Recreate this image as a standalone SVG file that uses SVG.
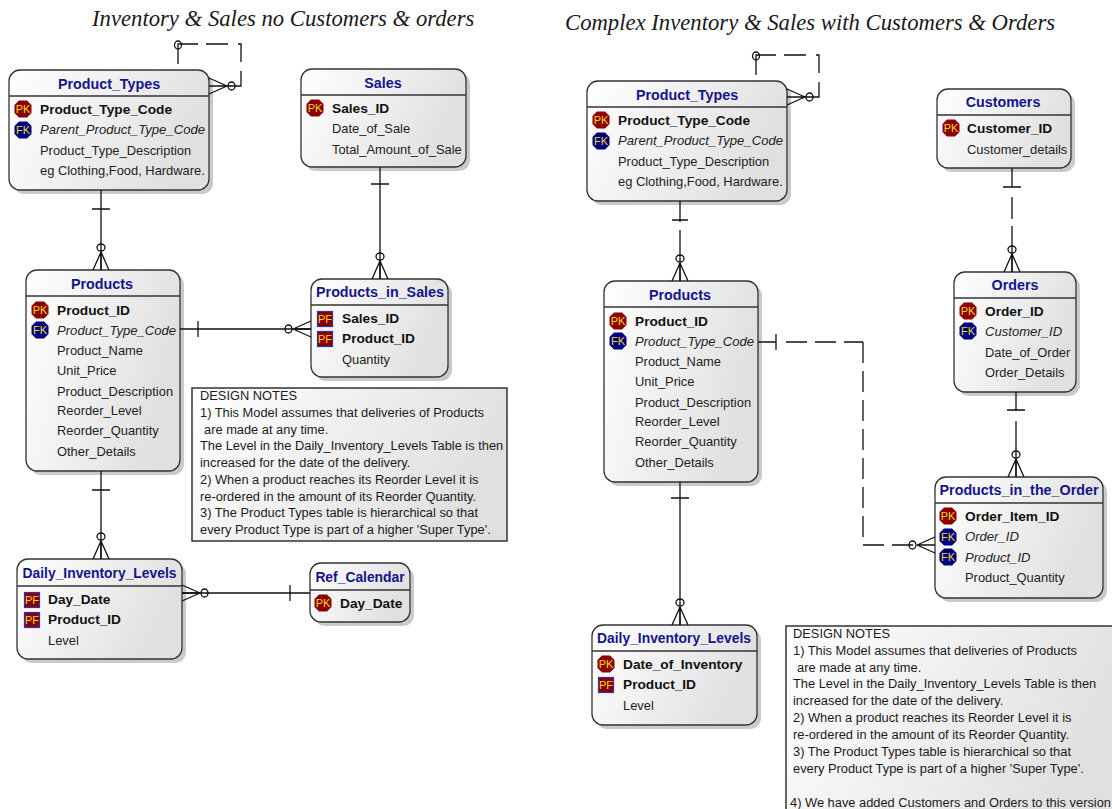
<svg xmlns="http://www.w3.org/2000/svg" xmlns:xlink="http://www.w3.org/1999/xlink" width="1112" height="809" viewBox="0 0 1112 809">
<style>
text{font-family:"Liberation Sans",Arial,sans-serif;font-size:12.9px;fill:#222}
.head{font-family:"Liberation Serif","Times New Roman",serif;font-style:italic;font-size:22.7px;fill:#1a1a1a}
.t{font-size:14.3px;font-weight:700;fill:#14148c;text-anchor:middle}
.t2{font-size:13.85px}
.b{font-size:13.7px;font-weight:700;fill:#111}
.i{font-style:italic;font-size:13.1px}
.n{font-size:12.85px;fill:#1a1a1a}
.box{fill:url(#g);stroke:#333;stroke-width:1.3}
.sh{fill:#cacaca}
.hl{stroke:#333;stroke-width:1.3}
.c{fill:none;stroke:#111;stroke-width:1.3}
.d{stroke-dasharray:21 8}
.o{fill:none;stroke:#111;stroke-width:1.3}
.note{fill:url(#g);stroke:#333;stroke-width:1.5}
.it{font-size:11px;fill:#f5d820;text-anchor:middle;font-weight:400}
</style>
<defs>
<linearGradient id="g" x1="0" y1="0" x2="1" y2="0.3"><stop offset="0" stop-color="#ffffff"/><stop offset="1" stop-color="#e0e0e0"/></linearGradient>
<g id="pk"><polygon points="-4,-8.5 4,-8.5 8.5,-4 8.5,4 4,8.5 -4,8.5 -8.5,4 -8.5,-4" fill="#8b0000"/><text class="it" y="4">PK</text></g>
<g id="fk"><polygon points="-4,-8.5 4,-8.5 8.5,-4 8.5,4 4,8.5 -4,8.5 -8.5,4 -8.5,-4" fill="#000080"/><text class="it" y="4">FK</text></g>
<g id="pf"><rect x="-7.5" y="-7.5" width="15" height="15" fill="#8b0000" stroke="#3030b0" stroke-width="1.2"/><text class="it" y="4">PF</text></g>
<g id="cd"><path class="c" d="M0 -18L-8 0M0 -18L8 0M0 -18V0"/><ellipse class="o" cx="0" cy="-22.5" rx="4" ry="3.5"/></g>
<g id="cl"><path class="c" d="M-18 0L0 -8M-18 0L0 8M-18 0H0"/><ellipse class="o" cx="-22.5" cy="0" rx="3.5" ry="4"/></g>
<g id="cr"><path class="c" d="M18 0L0 -8M18 0L0 8M18 0H0"/><ellipse class="o" cx="22.5" cy="0" rx="3.5" ry="4"/></g>
</defs>
<rect width="1112" height="809" fill="#fff"/>
<text class="head" x="92" y="26">Inventory &amp; Sales no Customers &amp; orders</text>
<text class="head" x="565" y="30">Complex Inventory &amp; Sales with Customers &amp; Orders</text>
<g id="t1"><rect class="sh" x="13" y="74" width="200" height="120" rx="11"/><rect class="box" x="9" y="70" width="200" height="120" rx="11"/><path class="hl" d="M9 96H209"/><text class="t" x="109" y="89">Product_Types</text><use xlink:href="#pk" x="23" y="109"/><use xlink:href="#fk" x="23" y="130"/><text class="b" x="40" y="114">Product_Type_Code</text><text class="i" x="40" y="134">Parent_Product_Type_Code</text><text x="40" y="155">Product_Type_Description</text><text x="40" y="175">eg Clothing,Food, Hardware.</text></g>
<g id="s1"><rect class="sh" x="305" y="73" width="165" height="98" rx="11"/><rect class="box" x="301" y="69" width="165" height="98" rx="11"/><path class="hl" d="M301 95H466"/><text class="t" x="383" y="88">Sales</text><use xlink:href="#pk" x="315" y="108"/><text class="b" x="332" y="113">Sales_ID</text><text x="332" y="133">Date_of_Sale</text><text x="332" y="154">Total_Amount_of_Sale</text></g>
<g id="p1"><rect class="sh" x="30" y="274" width="154" height="201" rx="11"/><rect class="box" x="26" y="270" width="154" height="201" rx="11"/><path class="hl" d="M26 296H180"/><text class="t" x="102" y="289">Products</text><use xlink:href="#pk" x="40" y="310"/><use xlink:href="#fk" x="40" y="330"/><text class="b" x="57" y="315">Product_ID</text><text class="i" x="57" y="335">Product_Type_Code</text><text x="57" y="355">Product_Name</text><text x="57" y="375">Unit_Price</text><text x="57" y="396">Product_Description</text><text x="57" y="415">Reorder_Level</text><text x="57" y="435">Reorder_Quantity</text><text x="57" y="456">Other_Details</text></g>
<g id="pis"><rect class="sh" x="315" y="283" width="137" height="98" rx="11"/><rect class="box" x="311" y="279" width="137" height="98" rx="11"/><path class="hl" d="M311 305H448"/><text class="t" x="380" y="297">Products_in_Sales</text><use xlink:href="#pf" x="325" y="319"/><use xlink:href="#pf" x="325" y="339"/><text class="b" x="342" y="323">Sales_ID</text><text class="b" x="342" y="343">Product_ID</text><text x="342" y="364">Quantity</text></g>
<g id="d1"><rect class="sh" x="21" y="563" width="165" height="100" rx="11"/><rect class="box" x="17" y="559" width="165" height="100" rx="11"/><path class="hl" d="M17 586H182"/><text class="t t2" x="99.5" y="578">Daily_Inventory_Levels</text><use xlink:href="#pf" x="32" y="600"/><use xlink:href="#pf" x="32" y="620"/><text class="b" x="48" y="604">Day_Date</text><text class="b" x="48" y="624">Product_ID</text><text x="48" y="645">Level</text></g>
<g id="rc"><rect class="sh" x="314" y="567" width="100" height="59" rx="11"/><rect class="box" x="310" y="563" width="100" height="59" rx="11"/><path class="hl" d="M310 590H410"/><text class="t t2" x="360" y="582">Ref_Calendar</text><use xlink:href="#pk" x="323" y="603"/><text class="b" x="340" y="608">Day_Date</text></g>
<g id="n1"><rect class="note" x="192" y="388" width="315" height="153"/><text class="n" x="200" y="400">DESIGN NOTES</text><text class="n" x="200" y="417">1) This Model assumes that deliveries of Products</text><text class="n" x="204" y="434">are made at any time.</text><text class="n" x="200" y="450">The Level in the Daily_Inventory_Levels Table is then</text><text class="n" x="200" y="467">increased for the date of the delivery.</text><text class="n" x="200" y="484">2) When a product reaches its Reorder Level it is</text><text class="n" x="200" y="501">re-ordered in the amount of its Reorder Quantity.</text><text class="n" x="200" y="517">3) The Product Types table is hierarchical so that</text><text class="n" x="200" y="534">every Product Type is part of a higher 'Super Type'.</text></g>
<g id="t2" transform="translate(578 11)"><rect class="sh" x="13" y="74" width="200" height="120" rx="11"/><rect class="box" x="9" y="70" width="200" height="120" rx="11"/><path class="hl" d="M9 96H209"/><text class="t" x="109" y="89">Product_Types</text><use xlink:href="#pk" x="23" y="109"/><use xlink:href="#fk" x="23" y="130"/><text class="b" x="40" y="114">Product_Type_Code</text><text class="i" x="40" y="134">Parent_Product_Type_Code</text><text x="40" y="155">Product_Type_Description</text><text x="40" y="175">eg Clothing,Food, Hardware.</text></g>
<g id="p2" transform="translate(578 11)"><rect class="sh" x="30" y="274" width="154" height="201" rx="11"/><rect class="box" x="26" y="270" width="154" height="201" rx="11"/><path class="hl" d="M26 296H180"/><text class="t" x="102" y="289">Products</text><use xlink:href="#pk" x="40" y="310"/><use xlink:href="#fk" x="40" y="330"/><text class="b" x="57" y="315">Product_ID</text><text class="i" x="57" y="335">Product_Type_Code</text><text x="57" y="355">Product_Name</text><text x="57" y="375">Unit_Price</text><text x="57" y="396">Product_Description</text><text x="57" y="415">Reorder_Level</text><text x="57" y="435">Reorder_Quantity</text><text x="57" y="456">Other_Details</text></g>
<g id="cu"><rect class="sh" x="941" y="93" width="134" height="79" rx="11"/><rect class="box" x="937" y="89" width="134" height="79" rx="11"/><path class="hl" d="M937 115H1071"/><text class="t" x="1003" y="107">Customers</text><use xlink:href="#pk" x="951" y="128"/><text class="b" x="967" y="133">Customer_ID</text><text x="967" y="154">Customer_details</text></g>
<g id="or"><rect class="sh" x="958" y="276" width="122" height="120" rx="11"/><rect class="box" x="954" y="272" width="122" height="120" rx="11"/><path class="hl" d="M954 298H1076"/><text class="t" x="1015" y="290">Orders</text><use xlink:href="#pk" x="968" y="311"/><use xlink:href="#fk" x="968" y="331"/><text class="b" x="985" y="316">Order_ID</text><text class="i" x="985" y="336">Customer_ID</text><text x="985" y="357">Date_of_Order</text><text x="985" y="377">Order_Details</text></g>
<g id="pio"><rect class="sh" x="939" y="481" width="168" height="121" rx="11"/><rect class="box" x="935" y="477" width="168" height="121" rx="11"/><path class="hl" d="M935 503H1103"/><text class="t" x="1019" y="495">Products_in_the_Order</text><use xlink:href="#pk" x="948" y="516"/><use xlink:href="#fk" x="948" y="537"/><use xlink:href="#fk" x="948" y="557"/><text class="b" x="965" y="521">Order_Item_ID</text><text class="i" x="965" y="541">Order_ID</text><text class="i" x="965" y="562">Product_ID</text><text x="965" y="582">Product_Quantity</text></g>
<g id="d2"><rect class="sh" x="596" y="629" width="165" height="100" rx="11"/><rect class="box" x="592" y="625" width="165" height="100" rx="11"/><path class="hl" d="M592 651H757"/><text class="t t2" x="674" y="643">Daily_Inventory_Levels</text><use xlink:href="#pk" x="606" y="664"/><use xlink:href="#pf" x="606" y="685"/><text class="b" x="623" y="669">Date_of_Inventory</text><text class="b" x="623" y="689">Product_ID</text><text x="623" y="710">Level</text></g>
<g id="n2"><rect class="note" x="786" y="626" width="340" height="195"/><text class="n" x="793" y="638">DESIGN NOTES</text><text class="n" x="793" y="655">1) This Model assumes that deliveries of Products</text><text class="n" x="797" y="672">are made at any time.</text><text class="n" x="793" y="688">The Level in the Daily_Inventory_Levels Table is then</text><text class="n" x="793" y="705">increased for the date of the delivery.</text><text class="n" x="793" y="722">2) When a product reaches its Reorder Level it is</text><text class="n" x="793" y="739">re-ordered in the amount of its Reorder Quantity.</text><text class="n" x="793" y="756">3) The Product Types table is hierarchical so that</text><text class="n" x="793" y="773">every Product Type is part of a higher 'Super Type'.</text><text class="n" x="790" y="807">4) We have added Customers and Orders to this version</text></g>
<g id="connectors">
<path class="c" d="M178 64V44H198M206 44H228M238 44H241V62M241 71V86H226"/>
<ellipse class="o" cx="178" cy="45" rx="3.5" ry="4"/>
<use xlink:href="#cr" x="209" y="86"/>
<path class="c" d="M101 190V270M92 209H110"/><use xlink:href="#cd" x="101" y="270"/>
<path class="c" d="M380 167V279M371 184H389"/><use xlink:href="#cd" x="380" y="279"/>
<path class="c" d="M180 329H311M198 321V337"/><use xlink:href="#cl" x="311" y="329"/>
<path class="c" d="M101 471V559M92 490H110"/><use xlink:href="#cd" x="101" y="559"/>
<path class="c" d="M182 593H310M290 585V601"/><use xlink:href="#cr" x="182" y="593"/>
<path class="c" d="M756 75V55H776M784 55H806M816 55H819V73M819 82V97H804"/>
<ellipse class="o" cx="756" cy="56" rx="3.5" ry="4"/>
<use xlink:href="#cr" x="787" y="97"/>
<path class="c" d="M680 201V222M680 230V281M672 220H688"/><use xlink:href="#cd" x="680" y="281"/>
<path class="c" d="M1012 168V187M1012 197V219M1012 226V272M1003 187H1021"/><use xlink:href="#cd" x="1012" y="272"/>
<path class="c" d="M1016 392V411M1016 421V477M1007 410H1025"/><use xlink:href="#cd" x="1016" y="477"/>
<path class="c" d="M758 342H776M776 334V350"/>
<path class="c d" d="M786 342H863"/><path class="c d" d="M863 342V545"/><path class="c d" d="M863 545H913"/>
<use xlink:href="#cl" x="935" y="545"/>
<path class="c" d="M680 482V625M671 498H689"/><use xlink:href="#cd" x="680" y="625"/>
</g>
</svg>
